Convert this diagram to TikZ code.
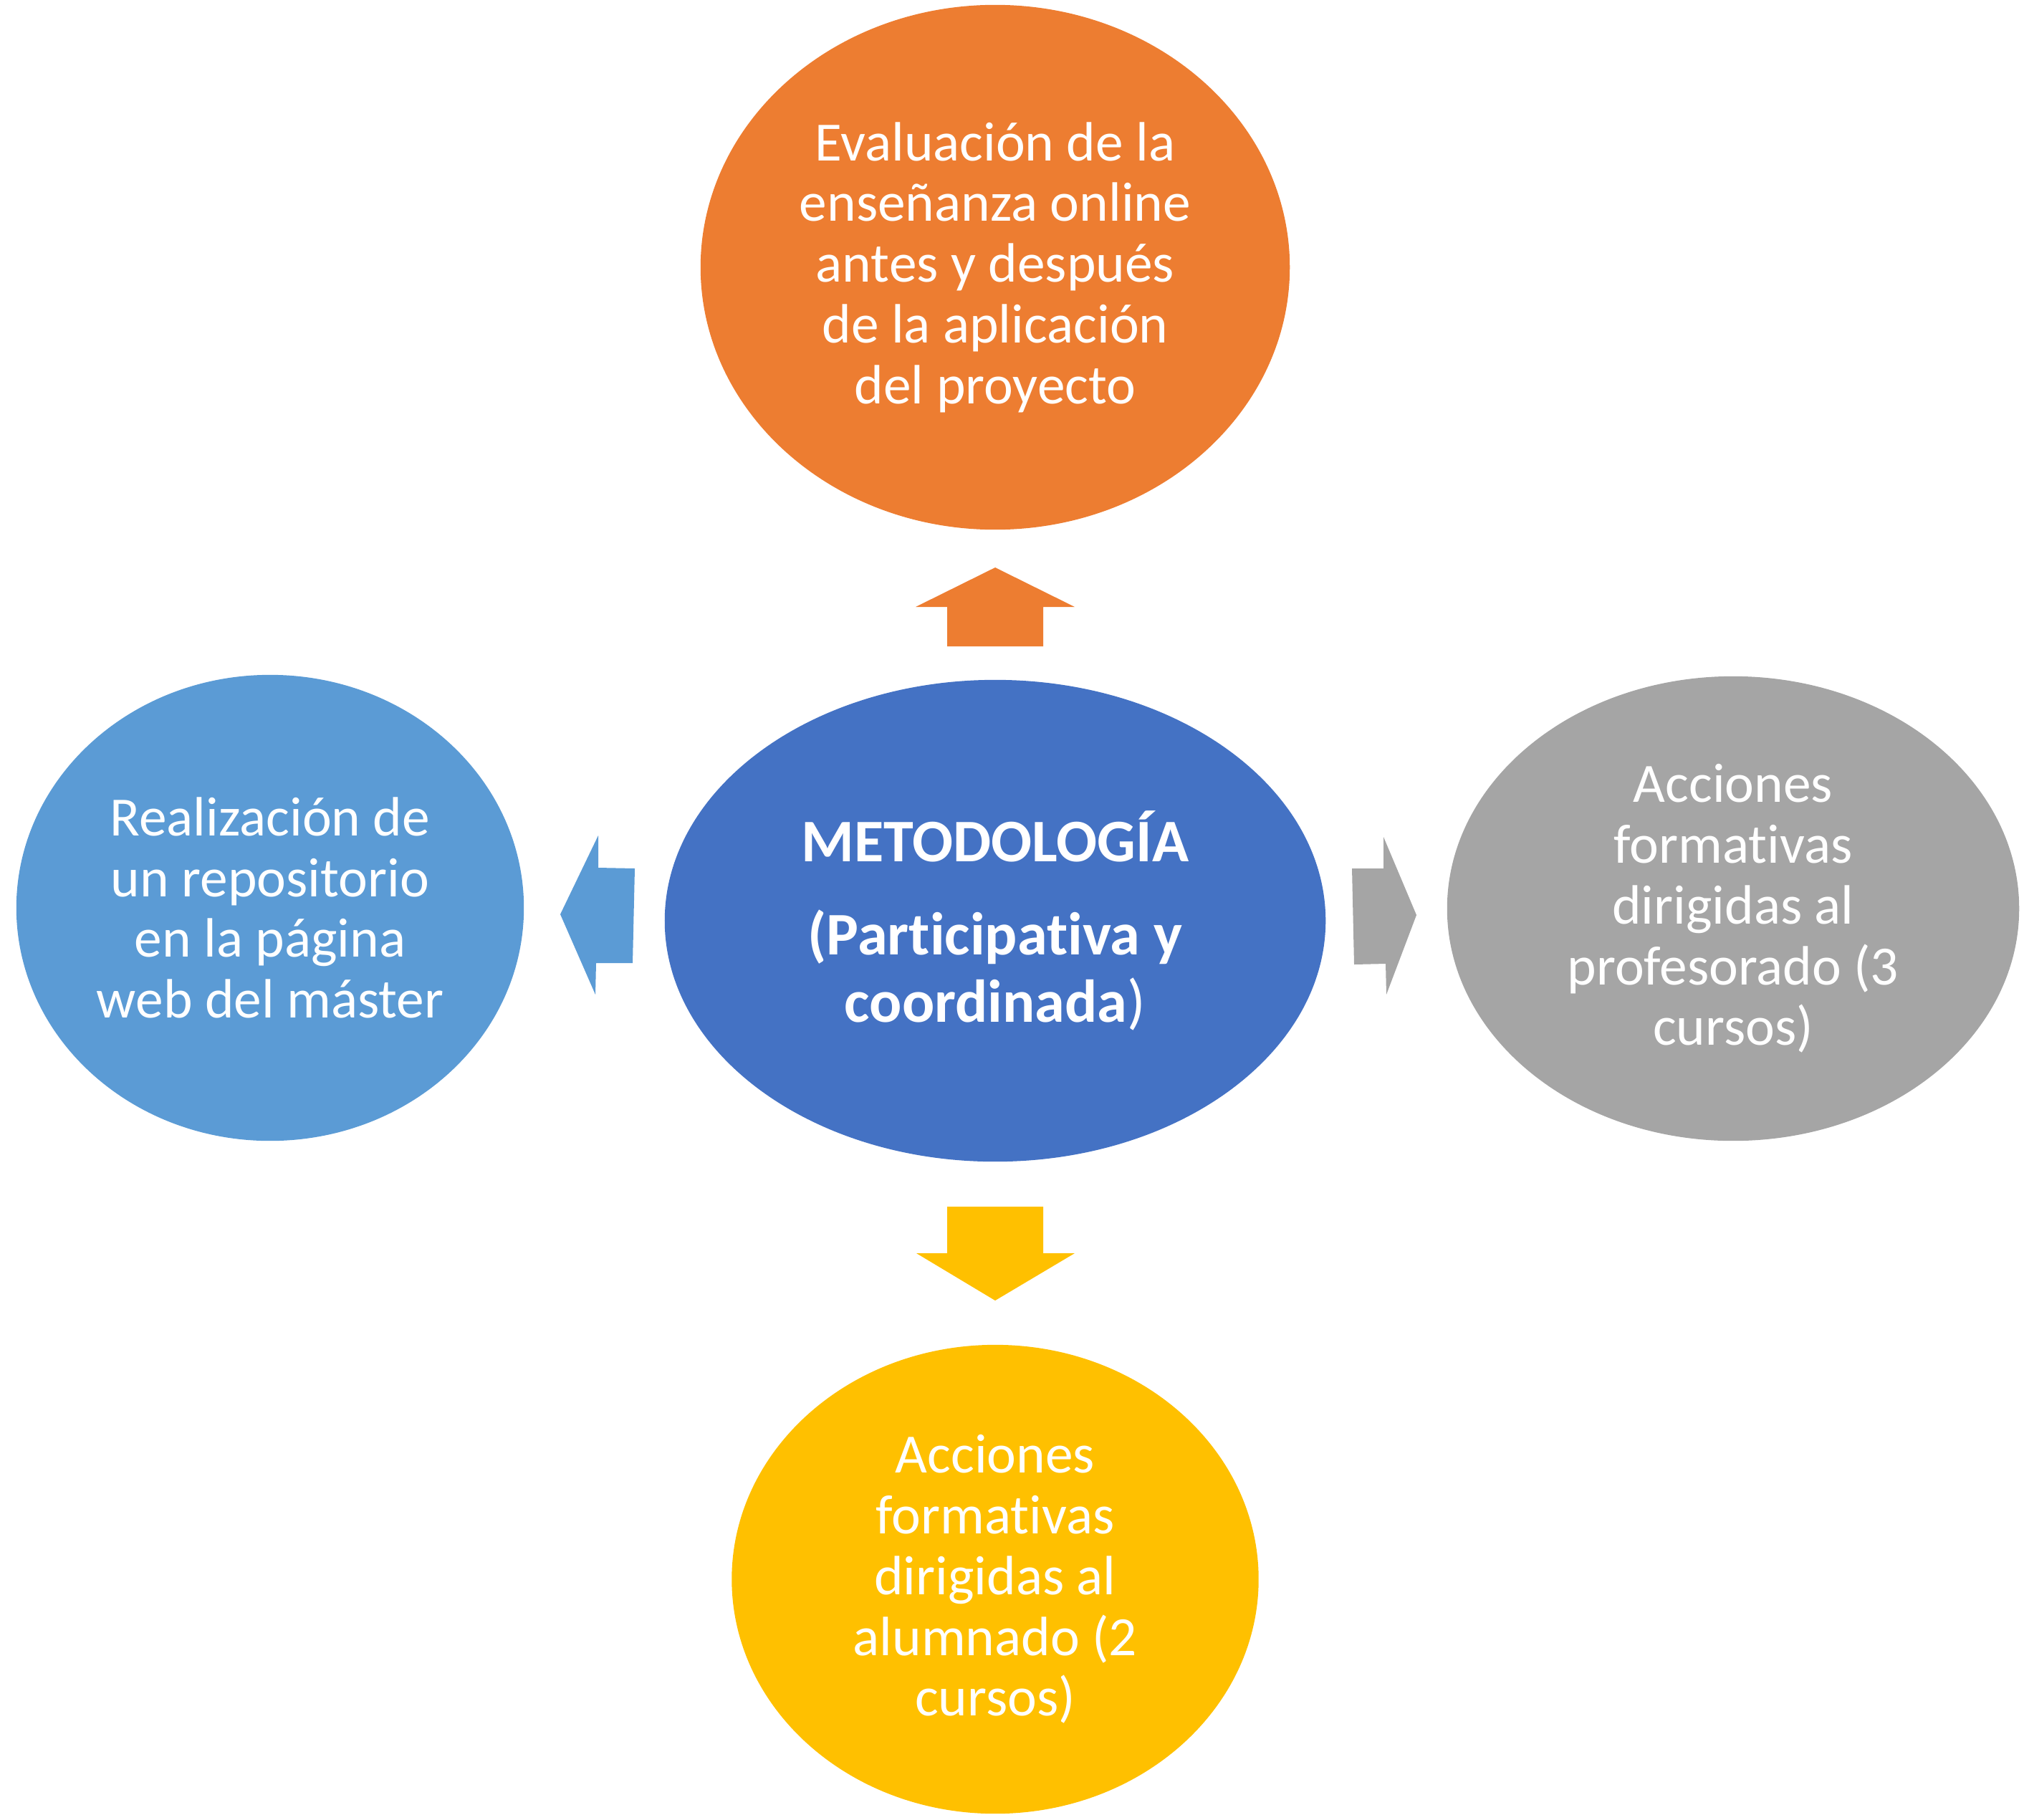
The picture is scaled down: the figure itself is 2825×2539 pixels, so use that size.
\documentclass[tikz,border=0pt]{standalone}
\usepackage{fontspec}
\setmainfont[RawFeature={-liga;-clig;-calt;-dlig}]{Carlito}
\usetikzlibrary{shapes.geometric}
\usepackage{xcolor}
\definecolor{evalorange}{HTML}{ED7D31}
\definecolor{metblue}{HTML}{4472C4}
\definecolor{repoblue}{HTML}{5B9BD5}
\definecolor{profgray}{HTML}{A5A5A5}
\definecolor{alumyellow}{HTML}{FFC000}

\tikzset{
  bubble/.style={shape=ellipse, inner sep=0pt, text=white, align=center,
    font=\fontsize{22}{24.1}\selectfont},
  bigarrow/.style={draw=none}
}

\begin{document}
\begin{tikzpicture}[x=0.01cm,y=-0.01cm]
  \useasboundingbox (0,0) rectangle (2825,2539);

  % the five ellipses
  \node[bubble, fill=metblue, minimum width=9.22cm, minimum height=6.72cm,
        font=\bfseries\fontsize{24}{26.7}\selectfont] (Metodo) at (1389,1285)
    {METODOLOG\'IA\\[0.36cm](Participativa y\\coordinada\textmd{)}};
  \node[bubble, fill=evalorange, minimum width=8.22cm, minimum height=7.32cm] (Eval) at (1389,373)
    {Evaluaci\'on de la\\ense\~nanza online\\antes y despu\'es\\de la aplicaci\'on\\del proyecto};
  \node[bubble, fill=repoblue, minimum width=7.08cm, minimum height=6.5cm] (Repo) at (377,1267)
    {Realizaci\'on de\\un repositorio\\en la p\'agina\\web del m\'aster};
  \node[bubble, fill=profgray, minimum width=7.98cm, minimum height=6.48cm] (Prof) at (2419,1268)
    {Acciones\\formativas\\dirigidas al\\profesorado (3\\cursos)};
  \node[bubble, fill=alumyellow, minimum width=7.35cm, minimum height=6.54cm] (Alum) at (1389,2204)
    {Acciones\\formativas\\dirigidas al\\alumnado (2\\cursos)};

  % block arrows between them
  \fill[bigarrow, evalorange] (1389,792) -- (1500,847) -- (1456,847) -- (1456,902)
    -- (1322,902) -- (1322,847) -- (1278,847) -- cycle;
  \fill[bigarrow, alumyellow] (1322,1684) -- (1456,1684) -- (1456,1749) -- (1500,1749)
    -- (1389,1815) -- (1279,1749) -- (1322,1749) -- cycle;
  \fill[bigarrow, repoblue] (782,1276) -- (835,1166) -- (835,1211) -- (886,1212)
    -- (883,1344) -- (832,1344) -- (831,1388) -- cycle;
  \fill[bigarrow, profgray] (1887,1212) -- (1931,1212) -- (1931,1168) -- (1977,1277)
    -- (1935,1388) -- (1934,1345) -- (1890,1346) -- cycle;
\end{tikzpicture}
\end{document}
